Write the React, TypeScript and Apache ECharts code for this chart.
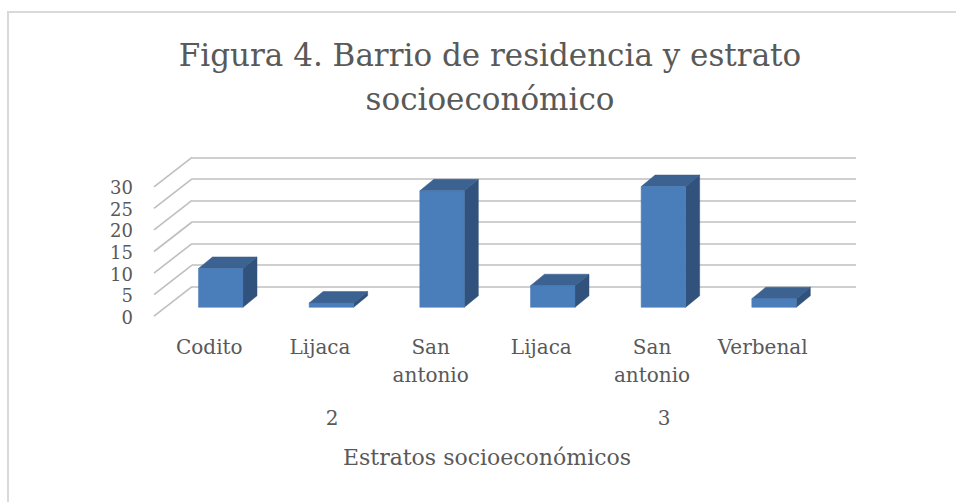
import React, { useEffect, useRef } from "react";
import * as echarts from "echarts";

const categories = ["Codito", "Lijaca", "San antonio", "Lijaca", "San antonio", "Verbenal"];
const values = [9, 1, 27, 5, 28, 2];
const groups = ["2", "3"];
const yTicks = [0, 5, 10, 15, 20, 25, 30];

const FONT = "DejaVu Serif";
const TXT = "#595959";
const GRID = "#BFBFBF";

export default function App() {
  const ref = useRef<HTMLDivElement>(null);
  useEffect(() => {
    if (!ref.current) return;
    const chart = echarts.init(ref.current, null, { renderer: "svg" });
    const option: any = {
      animation: false,
      backgroundColor: "#ffffff",
      title: {
        text: "Figura 4. Barrio de residencia y estrato\nsocioeconómico",
        left: 490,
        top: 33,
        textAlign: "center",
        padding: 0,
        textStyle: { fontFamily: FONT, fontSize: 31, lineHeight: 44, fontWeight: "normal", color: TXT },
      },
      graphic: [
        {
          type: "rect",
          shape: { x: 8, y: 12, width: 1000, height: 600 },
          style: { fill: "none", stroke: "#D9D9D9", lineWidth: 2 },
          silent: true,
          z: -10,
        },
      ],
      grid: { left: 192, right: 100, top: 157.3, bottom: 215.3, containLabel: false },
      xAxis: [
        {
          type: "category",
          data: categories,
          gridIndex: 0,
          position: "bottom",
          axisLine: { show: false },
          axisTick: { show: false },
          splitLine: { show: false },
          axisLabel: {
            interval: 0,
            hideOverlap: false,
            margin: 46,
            padding: [0, 76, 0, 0],
            fontFamily: FONT,
            fontSize: 20,
            lineHeight: 28,
            color: TXT,
            formatter: (v: string) => v.replace(" ", "\n"),
          },
        },
        {
          type: "category",
          data: groups,
          gridIndex: 0,
          position: "bottom",
          axisLine: { show: false },
          axisTick: { show: false },
          splitLine: { show: false },
          axisLabel: {
            interval: 0,
            margin: 117,
            padding: [0, 52, 0, 0],
            fontFamily: FONT,
            fontSize: 20,
            lineHeight: 28,
            color: TXT,
          },
          name: "Estratos socioeconómicos",
          nameLocation: "middle",
          nameGap: 158,
          nameTextStyle: {
            fontFamily: FONT,
            fontSize: 22,
            lineHeight: 26,
            color: TXT,
            padding: [0, 74, 0, 0],
          },
        },
      ],
      yAxis: {
        type: "value",
        min: 0,
        max: 30,
        interval: 5,
        axisLine: { show: false },
        axisTick: { show: false },
        axisLabel: { show: false },
        splitLine: { show: true, lineStyle: { color: GRID, width: 1.6 } },
      },
      series: [
        {
          type: "custom",
          xAxisIndex: 0,
          yAxisIndex: 0,
          silent: true,
          z: 1,
          data: yTicks.map((v) => [0, v]),
          renderItem: (params: any, api: any) => {
            const v = api.value(1);
            const p = api.coord([0, v]);
            const x0 = params.coordSys.x;
            return {
              type: "group",
              children: [
                {
                  type: "line",
                  shape: { x1: x0, y1: p[1], x2: x0 - 38, y2: p[1] + 29.5 },
                  style: { stroke: GRID, lineWidth: 1.6 },
                },
                {
                  type: "text",
                  x: x0 - 59,
                  y: p[1] + 30.5,
                  style: {
                    text: String(v),
                    align: "right",
                    verticalAlign: "middle",
                    fontFamily: FONT,
                    fontSize: 18,
                    lineHeight: 18,
                    fill: TXT,
                  },
                },
              ],
            };
          },
        },
        {
          type: "custom",
          xAxisIndex: 0,
          yAxisIndex: 0,
          z: 5,
          data: values.map((v, i) => [i, v]),
          renderItem: (params: any, api: any) => {
            const i = api.value(0);
            const v = api.value(1);
            const base = api.coord([i, 0]);
            const top = api.coord([i, v]);
            const h = base[1] - top[1];
            const w = 44.5;
            const cx = base[0] - 26.6;
            const by = base[1] + 20.6;
            const ty = by - h;
            const x0 = cx - w / 2;
            const x1 = cx + w / 2;
            const dx = 14;
            const dy = -11.5;
            return {
              type: "group",
              children: [
                {
                  type: "polygon",
                  shape: { points: [[x1, ty], [x1 + dx, ty + dy], [x1 + dx, by + dy], [x1, by]] },
                  style: { fill: "#30527C", stroke: "#2E4E75", lineWidth: 0.5 },
                },
                {
                  type: "polygon",
                  shape: { points: [[x0, ty], [x0 + dx, ty + dy], [x1 + dx, ty + dy], [x1, ty]] },
                  style: { fill: "#3B6291", stroke: "#385D8A", lineWidth: 0.5 },
                },
                {
                  type: "rect",
                  shape: { x: x0, y: ty, width: w, height: h },
                  style: { fill: "#4A7EBB", stroke: "#4677B2", lineWidth: 0.5 },
                },
              ],
            };
          },
        },
      ],
    };
    chart.setOption(option);
    return () => chart.dispose();
  }, []);
  return (
    <div
      ref={ref}
      style={{ position: "fixed", left: 0, top: 0, width: 956, height: 502 }}
    />
  );
}
